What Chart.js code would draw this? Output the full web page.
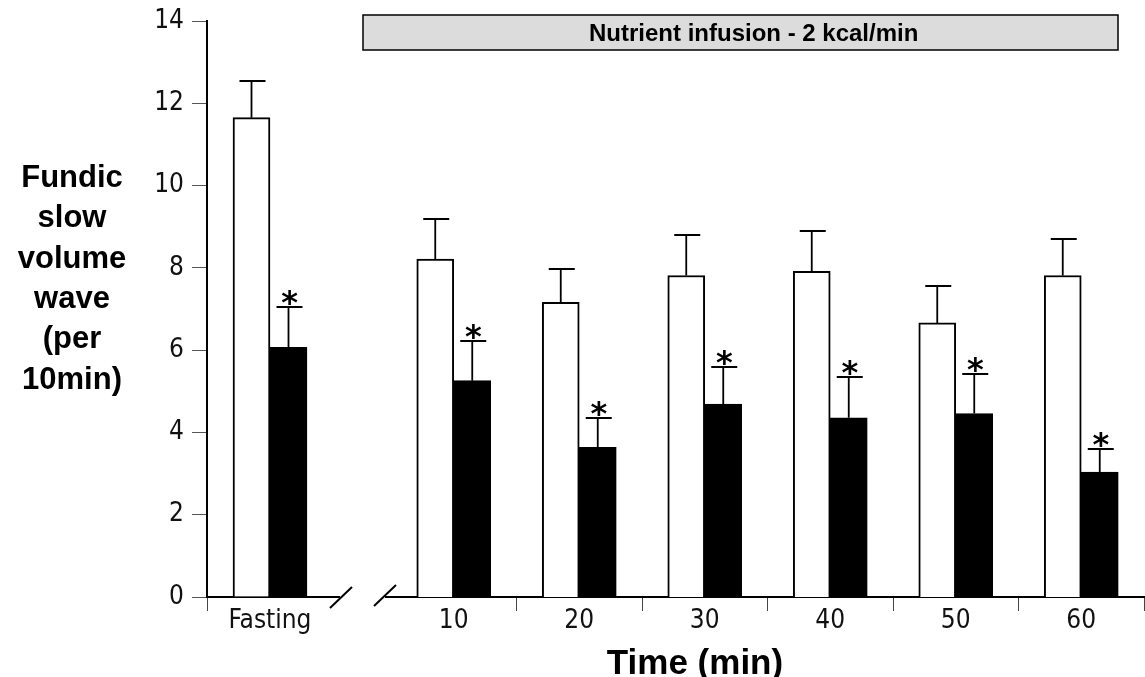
<!DOCTYPE html>
<html>
<head>
<meta charset="utf-8">
<script src="https://cdn.jsdelivr.net/npm/chart.js@4.4.0/dist/chart.umd.min.js"></script>
<style>
  html, body { margin: 0; padding: 0; background: #fff; }
  #wrap { position: relative; width: 1145px; height: 677px; }
  #wrap canvas { position: absolute; left: 0; top: 0; }
</style>
</head>
<body>
<div id="wrap">
  <canvas id="fasting-graph" width="1145" height="677"></canvas>
  <canvas id="infusion-graph" width="1145" height="677"></canvas>
</div>
<script>
// fundic slow volume waves per 10 min, mean and SEM
var fasting_labels = ["Fasting"];
var infusion_labels = ["10", "20", "30", "40", "50", "60"];
var y_ticks = [0, 2, 4, 6, 8, 10, 12, 14];

var fasting_open = [11.65];
var fasting_open_sem = [0.9];
var fasting_filled = [6.07];
var fasting_filled_sem = [0.98];
var fasting_signif = [true];

var infusion_open = [8.2, 7.15, 7.8, 7.9, 6.65, 7.8];
var infusion_open_sem = [0.97, 0.8, 0.98, 0.97, 0.9, 0.89];
var infusion_filled = [5.25, 3.63, 4.68, 4.35, 4.45, 3.03];
var infusion_filled_sem = [0.97, 0.71, 0.9, 0.99, 0.96, 0.57];
var infusion_signif = [true, true, true, true, true, true];

var y_title = ["Fundic", "slow", "volume", "wave", "(per", "10min)"];
var x_title = "Time (min)";
var banner_text = "Nutrient infusion - 2 kcal/min";

var narrow = '"DejaVu Sans Condensed", "Liberation Sans", sans-serif';
var tick_font = { family: narrow, size: 26, lineHeight: 1 };

function barSets(open, filled) {
    return [
        { label: "open", data: open, backgroundColor: '#ffffff', borderColor: '#000000',
          borderWidth: 2, barThickness: 37 },
        { label: "filled", data: filled, backgroundColor: '#000000', borderColor: '#000000',
          borderWidth: 2, barThickness: 37 }
    ];
}

// SEM whiskers with a slightly right-heavy cap, plus asterisks over the filled bars
function errorBars(sem_lists, signif) {
    return {
        id: 'errorBars',
        afterDatasetsDraw: function(chart) {
            var ctx = chart.ctx;
            var y = chart.scales.y;
            ctx.save();
            ctx.strokeStyle = '#000';
            ctx.fillStyle = '#000';
            ctx.lineWidth = 1.8;
            chart.data.datasets.forEach(function(ds, d) {
                var meta = chart.getDatasetMeta(d);
                meta.data.forEach(function(bar, i) {
                    var top = Math.round(y.getPixelForValue(ds.data[i] + sem_lists[d][i]));
                    ctx.beginPath();
                    ctx.moveTo(bar.x, bar.y);
                    ctx.lineTo(bar.x, top);
                    ctx.moveTo(bar.x - 12, top);
                    ctx.lineTo(bar.x + 14, top);
                    ctx.stroke();
                    if (d === 1 && signif[i]) {
                        ctx.font = 'bold 32px "DejaVu Sans", sans-serif';
                        ctx.textAlign = 'center';
                        ctx.textBaseline = 'alphabetic';
                        ctx.fillText("*", bar.x + 1, top + 6);
                    }
                });
            });
            ctx.restore();
        }
    };
}

function slash(ctx, x1, y1, x2, y2) {
    ctx.beginPath();
    ctx.moveTo(x1, y1);
    ctx.lineTo(x2, y2);
    ctx.stroke();
}

var fastingDecor = {
    id: 'fastingDecor',
    afterDraw: function(chart) {
        var ctx = chart.ctx;
        var area = chart.chartArea;
        ctx.save();
        ctx.strokeStyle = '#000';
        ctx.lineWidth = 2;
        // axis runs a little past the category, then the break mark
        slash(ctx, area.right, area.bottom, area.right + 7, area.bottom);
        slash(ctx, 330, 608, 352, 587);
        ctx.fillStyle = '#000';
        ctx.font = 'bold 31px "Liberation Sans", sans-serif';
        ctx.textAlign = 'center';
        ctx.textBaseline = 'alphabetic';
        for (var i = 0; i < y_title.length; i++) {
            ctx.fillText(y_title[i], 72, 187 + i * 40.3);
        }
        ctx.restore();
    }
};

var infusionDecor = {
    id: 'infusionDecor',
    afterDraw: function(chart) {
        var ctx = chart.ctx;
        var area = chart.chartArea;
        ctx.save();
        ctx.strokeStyle = '#000';
        ctx.lineWidth = 2;
        slash(ctx, area.left - 6, area.bottom, area.left, area.bottom);
        slash(ctx, 374, 606, 396, 585);
        // infusion banner
        ctx.fillStyle = '#dcdcdc';
        ctx.fillRect(363, 15, 755, 35);
        ctx.lineWidth = 1.5;
        ctx.strokeRect(363, 15, 755, 35);
        ctx.fillStyle = '#000';
        ctx.font = 'bold 24px "Liberation Sans", sans-serif';
        ctx.textAlign = 'left';
        ctx.textBaseline = 'alphabetic';
        ctx.fillText(banner_text, 589, 41);
        ctx.font = 'bold 35px "Liberation Sans", sans-serif';
        ctx.textAlign = 'center';
        ctx.fillText(x_title, 695, 674);
        ctx.restore();
    }
};

var y_scale = {
    min: 0,
    max: 14,
    afterBuildTicks: function(axis) {
        axis.ticks = y_ticks.map(function(v) { return { value: v }; });
    }
};

const fasting_graph = document.getElementById('fasting-graph').getContext('2d');
let fastingChart = new Chart(fasting_graph, {
    type: 'bar',
    data: { labels: fasting_labels, datasets: barSets(fasting_open, fasting_filled) },
    options: {
        responsive: false,
        animation: false,
        layout: { padding: { left: 0, right: 812, top: 20, bottom: 0 } },
        plugins: { legend: { display: false }, tooltip: { enabled: false } },
        scales: {
            x: {
                offset: true,
                grid: {
                    offset: true, drawOnChartArea: false, tickLength: 14, lineWidth: 1,
                    color: function(c) { return c.index === 0 ? '#444' : 'rgba(0,0,0,0)'; }
                },
                border: { display: true, color: '#000', width: 2 },
                ticks: { font: tick_font, color: '#111', padding: -3 },
                afterFit: function(scale) { scale.height = 80; }
            },
            y: Object.assign({}, y_scale, {
                grid: { drawOnChartArea: false, tickLength: 15, color: '#555', lineWidth: 1 },
                border: { display: true, color: '#000', width: 2 },
                ticks: { font: tick_font, color: '#111', padding: 8 },
                afterFit: function(scale) { scale.width = 207; }
            })
        }
    },
    plugins: [errorBars([fasting_open_sem, fasting_filled_sem], fasting_signif), fastingDecor]
});

const infusion_graph = document.getElementById('infusion-graph').getContext('2d');
let infusionChart = new Chart(infusion_graph, {
    type: 'bar',
    data: { labels: infusion_labels, datasets: barSets(infusion_open, infusion_filled) },
    options: {
        responsive: false,
        animation: false,
        layout: { padding: { left: 391, right: 1, top: 20, bottom: 0 } },
        plugins: { legend: { display: false }, tooltip: { enabled: false } },
        scales: {
            x: {
                offset: true,
                grid: {
                    offset: true, drawOnChartArea: false, tickLength: 14, lineWidth: 1,
                    color: function(c) { return c.index === 0 ? 'rgba(0,0,0,0)' : '#444'; }
                },
                border: { display: true, color: '#000', width: 2 },
                ticks: { font: tick_font, color: '#111', padding: -3 },
                afterFit: function(scale) { scale.height = 80; }
            },
            y: Object.assign({}, y_scale, { display: false })
        }
    },
    plugins: [errorBars([infusion_open_sem, infusion_filled_sem], infusion_signif), infusionDecor]
});
</script>
</body>
</html>
